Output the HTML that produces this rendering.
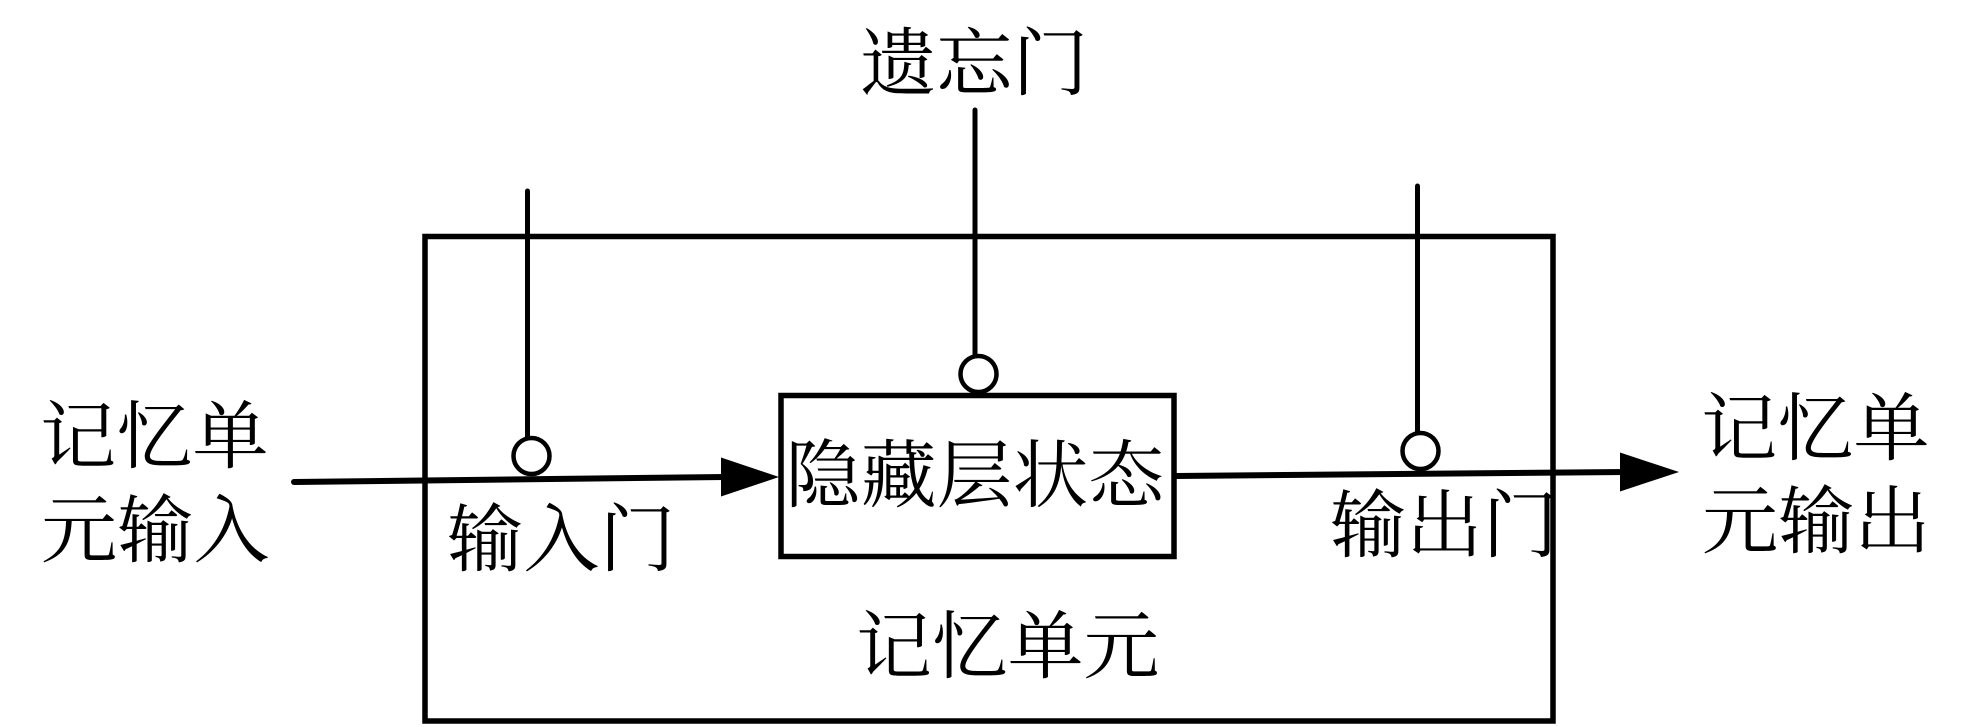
<!DOCTYPE html>
<html><head><meta charset="utf-8"><style>
html,body{margin:0;padding:0;background:#fff;width:1971px;height:727px;overflow:hidden}
svg{display:block}
text{font-family:"Liberation Serif","Noto Serif CJK SC",serif;font-size:74px;fill:#000}
</style></head><body>
<svg width="1971" height="727" viewBox="0 0 1971 727" xmlns="http://www.w3.org/2000/svg">
<rect width="1971" height="727" fill="#fff"/>
<rect x="425" y="236.5" width="1128" height="484.5" fill="none" stroke="#000" stroke-width="5.5"/>
<rect x="781" y="395.5" width="393" height="161" fill="none" stroke="#000" stroke-width="5.5"/>
<line x1="527.5" y1="191" x2="527.5" y2="438" stroke="#000" stroke-width="5" stroke-linecap="round"/>
<line x1="975" y1="110" x2="975" y2="356" stroke="#000" stroke-width="5" stroke-linecap="round"/>
<line x1="1417.5" y1="186" x2="1417.5" y2="432" stroke="#000" stroke-width="5" stroke-linecap="round"/>
<circle cx="531.5" cy="456" r="18" fill="#fff" stroke="#000" stroke-width="4.5"/>
<circle cx="978.5" cy="374" r="18" fill="#fff" stroke="#000" stroke-width="4.5"/>
<circle cx="1420.5" cy="451" r="18" fill="#fff" stroke="#000" stroke-width="4.5"/>
<line x1="294" y1="482" x2="725" y2="477" stroke="#000" stroke-width="6" stroke-linecap="round"/>
<polygon points="721,457.5 779,477 721,496.5" fill="#000"/>
<line x1="1176" y1="476" x2="1625" y2="472" stroke="#000" stroke-width="6"/>
<polygon points="1620,452.5 1679,472 1620,491.5" fill="#000"/>
<text transform="translate(40,462) scale(1.03,1)">记忆单</text>
<text transform="translate(41,556) scale(1.03,1)">元输入</text>
<text transform="translate(447,565) scale(1.03,1)">输入门</text>
<text transform="translate(860,89) scale(1.03,1)">遗忘门</text>
<text transform="translate(785,501) scale(1.025,1)">隐藏层状态</text>
<text transform="translate(856,672) scale(1.025,1)">记忆单元</text>
<text transform="translate(1330,551) scale(1.03,1)">输出门</text>
<text transform="translate(1701,454) scale(1.03,1)">记忆单</text>
<text transform="translate(1702,547) scale(1.03,1)">元输出</text>
</svg>
</body></html>
